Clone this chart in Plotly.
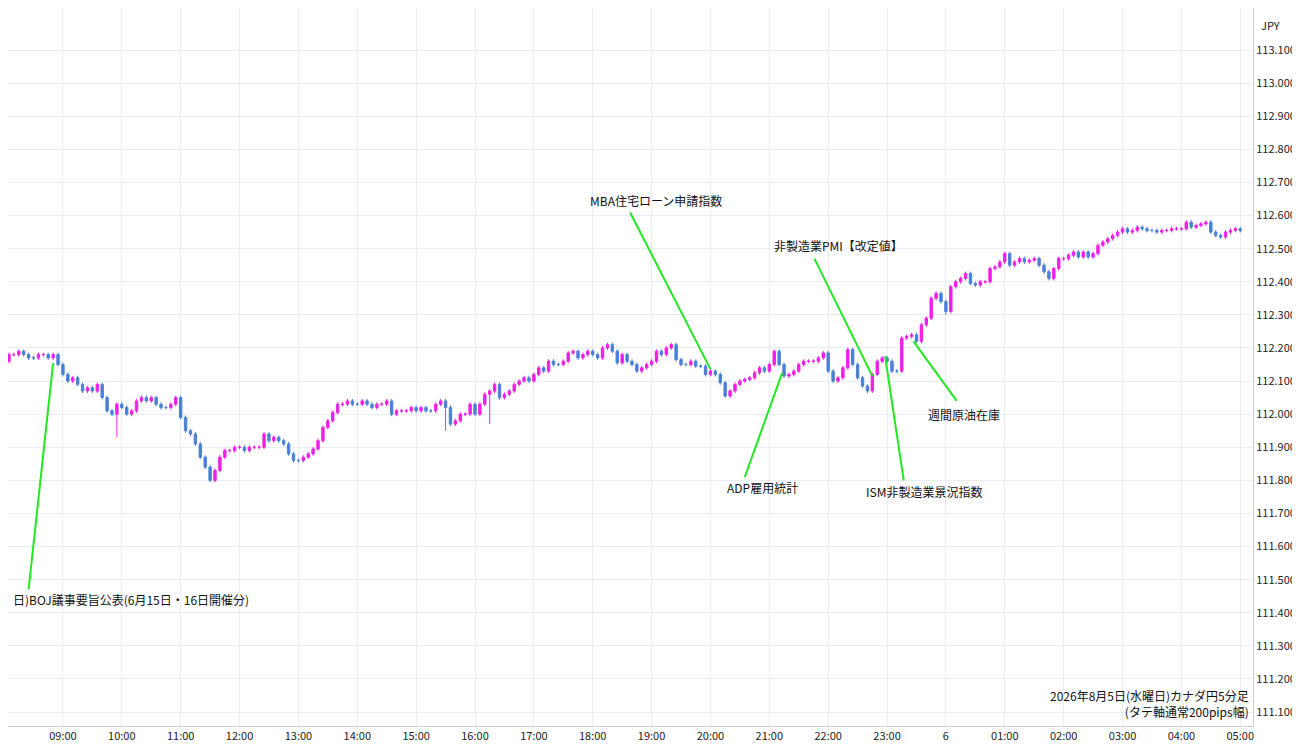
import pandas as pd
import plotly.graph_objects as go

# 5-minute closes, one list per hour (CAD/JPY)
h08 = [112.16, 112.18, 112.18, 112.19, 112.18, 112.17, 112.17, 112.18, 112.18, 112.17, 112.18, 112.15]
h09 = [112.12, 112.10, 112.11, 112.09, 112.07, 112.08, 112.07, 112.09, 112.05, 112.01, 112.00, 112.03]
h10 = [112.02, 112.00, 112.01, 112.04, 112.05, 112.04, 112.05, 112.03, 112.02, 112.02, 112.03, 112.05]
h11 = [111.99, 111.95, 111.94, 111.91, 111.87, 111.84, 111.80, 111.83, 111.87, 111.89, 111.89, 111.90]
h12 = [111.90, 111.89, 111.90, 111.90, 111.90, 111.94, 111.92, 111.93, 111.92, 111.91, 111.88, 111.86]
h13 = [111.86, 111.87, 111.88, 111.895, 111.92, 111.96, 111.98, 112.005, 112.03, 112.03, 112.04, 112.03]
h14 = [112.03, 112.04, 112.03, 112.02, 112.03, 112.03, 112.04, 112.00, 112.01, 112.01, 112.01, 112.02]
h15 = [112.01, 112.02, 112.01, 112.01, 112.03, 112.04, 112.02, 111.97, 111.98, 112.00, 112.00, 112.03]
h16 = [112.00, 112.03, 112.06, 112.07, 112.09, 112.05, 112.06, 112.07, 112.09, 112.10, 112.11, 112.10]
h17 = [112.12, 112.14, 112.13, 112.16, 112.15, 112.15, 112.16, 112.185, 112.19, 112.17, 112.18, 112.19]
h18 = [112.18, 112.17, 112.20, 112.21, 112.19, 112.155, 112.18, 112.16, 112.15, 112.13, 112.14, 112.15]
h19 = [112.16, 112.19, 112.18, 112.20, 112.21, 112.165, 112.15, 112.15, 112.16, 112.145, 112.145, 112.12]
h20 = [112.13, 112.12, 112.095, 112.055, 112.07, 112.09, 112.10, 112.105, 112.11, 112.125, 112.14, 112.13]
h21 = [112.15, 112.19, 112.15, 112.115, 112.12, 112.13, 112.15, 112.16, 112.16, 112.16, 112.17, 112.185]
h22 = [112.13, 112.10, 112.11, 112.14, 112.195, 112.15, 112.11, 112.085, 112.07, 112.12, 112.16, 112.17]
h23 = [112.16, 112.13, 112.13, 112.23, 112.235, 112.24, 112.22, 112.27, 112.29, 112.35, 112.365, 112.34]
h00 = [112.31, 112.385, 112.40, 112.41, 112.425, 112.395, 112.39, 112.40, 112.40, 112.44, 112.445, 112.46]
h01 = [112.485, 112.45, 112.46, 112.47, 112.46, 112.465, 112.47, 112.45, 112.43, 112.41, 112.44, 112.47]
h02 = [112.47, 112.48, 112.49, 112.475, 112.49, 112.475, 112.485, 112.51, 112.52, 112.53, 112.54, 112.55]
h03 = [112.56, 112.55, 112.555, 112.565, 112.56, 112.555, 112.555, 112.55, 112.555, 112.555, 112.56, 112.56]
h04 = [112.56, 112.58, 112.565, 112.57, 112.575, 112.58, 112.55, 112.54, 112.535, 112.55, 112.555, 112.56]
h05 = [112.555]
first_open = 112.14

# a few long lower wicks: candle index -> low
long_wicks = {23: 111.93, 41: 111.845, 90: 111.95, 99: 111.97, 192: 112.30}

# event labels: text, label time, label price, anchor, line start, line end
events = [
    ("日)BOJ議事要旨公表(6月15日・16日開催分)", "2026-08-05 08:07", 111.44, "left",
     ("2026-08-05 08:25", 111.47), ("2026-08-05 08:50", 112.154)),
    ("MBA住宅ローン申請指数", "2026-08-05 19:04", 112.645, "center",
     ("2026-08-05 18:38", 112.61), ("2026-08-05 20:00", 112.136)),
    ("ADP雇用統計", "2026-08-05 20:53", 111.78, "center",
     ("2026-08-05 20:35", 111.81), ("2026-08-05 21:13", 112.124)),
    ("非製造業PMI【改定値】", "2026-08-05 22:11", 112.51, "center",
     ("2026-08-05 21:46", 112.47), ("2026-08-05 22:45", 112.115)),
    ("ISM非製造業景況指数", "2026-08-05 23:38", 111.765, "center",
     ("2026-08-05 23:17", 111.80), ("2026-08-05 22:58", 112.175)),
    ("週間原油在庫", "2026-08-06 00:18", 112.0, "center",
     ("2026-08-06 00:11", 112.04), ("2026-08-05 23:27", 112.22)),
]

closes = h08 + h09 + h10 + h11 + h12 + h13 + h14 + h15 + h16 + h17 + h18 + h19 + h20 + h21 + h22 + h23 \
    + h00 + h01 + h02 + h03 + h04 + h05
times = pd.date_range("2026-08-05 08:00", periods=len(closes), freq="5min")
opens = [first_open] + closes[:-1]
highs, lows = [], []
for i, (o, c) in enumerate(zip(opens, closes)):
    hi, lo = max(o, c) + 0.006, min(o, c) - 0.006
    if i in long_wicks:
        lo = min(lo, long_wicks[i])
    highs.append(hi)
    lows.append(lo)

fig = go.Figure()
fig.add_trace(go.Candlestick(
    x=times, open=opens, high=highs, low=lows, close=closes,
    increasing=dict(line=dict(color="#F020E8", width=1), fillcolor="#F020E8"),
    decreasing=dict(line=dict(color="#4A80D8", width=1), fillcolor="#4A80D8"),
    whiskerwidth=0, showlegend=False, hoverinfo="skip",
))

for text, tx, ty, anchor, p0, p1 in events:
    fig.add_shape(type="line", x0=p0[0], y0=p0[1], x1=p1[0], y1=p1[1],
                  line=dict(color="#22E822", width=2))
    fig.add_annotation(x=tx, y=ty, text=text, showarrow=False, xanchor=anchor,
                       font=dict(size=12, color="#111111"))

fig.add_annotation(xref="paper", yref="paper", x=0.998, y=0.005, xanchor="right", yanchor="bottom",
                   text="2026年8月5日(水曜日)カナダ円5分足<br>(タテ軸通常200pips幅)", showarrow=False,
                   align="right", font=dict(size=12, color="#111111"))
fig.add_annotation(xref="paper", yref="paper", x=1.005, y=0.99, xanchor="left", yanchor="top",
                   text="JPY", showarrow=False, font=dict(size=11, color="#222222"))

tickvals = pd.date_range("2026-08-05 08:00", "2026-08-06 05:00", freq="1h")
ticktext = ["6" if t.hour == 0 else t.strftime("%H:%M") for t in tickvals]
yticks = [round(111.1 + 0.1 * k, 1) for k in range(21)]

fig.update_layout(
    width=1300, height=745,
    margin=dict(l=0, r=55, t=0, b=27),
    plot_bgcolor="white", paper_bgcolor="white",
    font=dict(family="Noto Sans CJK JP, Noto Sans, sans-serif", size=11, color="#222222"),
    xaxis=dict(range=["2026-08-05 08:04", "2026-08-06 05:13"], rangeslider=dict(visible=False),
               tickvals=tickvals, ticktext=ticktext, showgrid=True, gridcolor="#E8EEF4",
               showline=True, linecolor="#C8CCD0", ticks="", tickfont=dict(size=11)),
    yaxis=dict(side="right", range=[111.058, 113.227], tickvals=yticks,
               ticktext=[f"{v:.3f}" for v in yticks], showgrid=True, gridcolor="#E8EEF4",
               showline=True, linecolor="#C8CCD0", mirror=False, ticks="", tickfont=dict(size=11),
               zeroline=False),
)

fig.write_html("out.html")
